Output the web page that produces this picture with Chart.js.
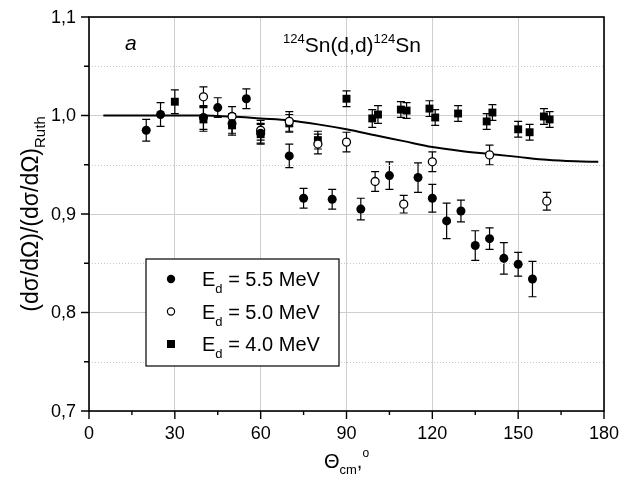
<!DOCTYPE html>
<html>
<head>
<meta charset="utf-8">
<script src="https://cdn.jsdelivr.net/npm/chart.js@4.4.1/dist/chart.umd.min.js"></script>
<style>
  body { margin: 0; background: #fff; }
</style>
</head>
<body>
<canvas id="chart" width="620" height="492"></canvas>
<script>
// angles (deg, cm) and ratio values
var theta55 = [20, 25, 40, 45, 50, 55, 60, 70, 75, 85, 95, 105, 115, 120, 125, 130, 135, 140, 145, 150, 155];
var ratio55 = [0.985, 1.001, 0.998, 1.008, 0.992, 1.017, 0.982, 0.959, 0.916, 0.915, 0.905, 0.939, 0.937, 0.916, 0.893, 0.903, 0.868, 0.875, 0.855, 0.849, 0.834];
var err55   = [0.011, 0.012, 0.012, 0.010, 0.010, 0.010, 0.010, 0.012, 0.010, 0.010, 0.011, 0.014, 0.015, 0.014, 0.018, 0.011, 0.015, 0.011, 0.016, 0.012, 0.018];

var theta50 = [40, 50, 60, 70, 80, 90, 100, 110, 120, 140, 160];
var ratio50 = [1.019, 0.999, 0.985, 0.994, 0.971, 0.973, 0.933, 0.910, 0.953, 0.960, 0.913];
var err50   = [0.010, 0.010, 0.010, 0.010, 0.010, 0.010, 0.010, 0.009, 0.010, 0.010, 0.009];

var theta40 = [30, 40, 50, 60, 70, 80, 90, 99, 101, 109, 111, 119, 121, 129, 139, 141, 150, 154, 159, 161];
var ratio40 = [1.014, 0.996, 0.990, 0.981, 0.992, 0.975, 1.017, 0.997, 1.001, 1.006, 1.005, 1.007, 0.998, 1.002, 0.994, 1.003, 0.986, 0.983, 0.999, 0.996];
var err40   = [0.012, 0.012, 0.010, 0.010, 0.009, 0.009, 0.008, 0.009, 0.009, 0.008, 0.008, 0.008, 0.008, 0.008, 0.008, 0.008, 0.008, 0.008, 0.008, 0.008];

var thetaFit = [5, 20, 30, 40, 45, 50, 60, 70, 80, 90, 100, 110, 120, 130, 140, 150, 160, 170, 178];
var ratioFit = [1.000, 1.000, 1.000, 1.000, 0.9995, 0.999, 0.997, 0.995, 0.991, 0.986, 0.980, 0.974, 0.968, 0.964, 0.961, 0.958, 0.955, 0.9535, 0.953];

var xTickLabels = ["0", "30", "60", "90", "120", "150", "180"];
var yTickLabels = ["0,7", "0,8", "0,9", "1,0", "1,1"];
var legendLabels = ["5.5 MeV", "5.0 MeV", "4.0 MeV"];

var FONT = "'Liberation Sans', Arial, sans-serif";

function pts(xs, ys) {
    return xs.map(function(x, i) { return { x: x, y: ys[i] }; });
}

// draws a run of text pieces (normal / sub / sup) starting at x, baseline y
function drawRich(ctx, parts, x, y) {
    parts.forEach(function(p) {
        ctx.font = (p.italic ? "italic " : "") + p.size + "px " + FONT;
        ctx.fillText(p.text, x, y + (p.dy || 0));
        x += ctx.measureText(p.text).width;
    });
    return x;
}
function richWidth(ctx, parts) {
    var w = 0;
    parts.forEach(function(p) {
        ctx.font = (p.italic ? "italic " : "") + p.size + "px " + FONT;
        w += ctx.measureText(p.text).width;
    });
    return w;
}
function isMajorX(v) { return Math.round(v) % 30 === 0; }
function isMajorY(v) { return Math.round(v * 100) % 10 === 0; }

var errorBars = {
    id: "errorBars",
    beforeDatasetsDraw: function(chart) {
        var ctx = chart.ctx;
        var xs = chart.scales.x, ys = chart.scales.y;
        ctx.save();
        ctx.strokeStyle = "#000";
        ctx.lineWidth = 1.2;
        chart.data.datasets.forEach(function(ds) {
            if (!ds.errors) return;
            ds.data.forEach(function(p, i) {
                var px = xs.getPixelForValue(p.x);
                var y1 = ys.getPixelForValue(p.y + ds.errors[i]);
                var y2 = ys.getPixelForValue(p.y - ds.errors[i]);
                ctx.beginPath();
                ctx.moveTo(px, y1); ctx.lineTo(px, y2);
                ctx.moveTo(px - 4, y1); ctx.lineTo(px + 4, y1);
                ctx.moveTo(px - 4, y2); ctx.lineTo(px + 4, y2);
                ctx.stroke();
            });
        });
        ctx.restore();
    }
};

var frameAndText = {
    id: "frameAndText",
    beforeDatasetsDraw: function(chart) {
        // dotted minor grid lines
        var ctx = chart.ctx, a = chart.chartArea, ys = chart.scales.y;
        ctx.save();
        ctx.strokeStyle = "#c8c8c8";
        ctx.lineWidth = 1;
        ctx.setLineDash([1, 2]);
        ys.ticks.forEach(function(t) {
            if (!isMajorY(t.value)) {
                var py = Math.round(ys.getPixelForValue(t.value)) + 0.5;
                ctx.beginPath();
                ctx.moveTo(a.left, py); ctx.lineTo(a.right, py);
                ctx.stroke();
            }
        });
        ctx.restore();
    },
    afterDraw: function(chart) {
        var ctx = chart.ctx, a = chart.chartArea;
        var xs = chart.scales.x, ys = chart.scales.y;
        ctx.save();
        ctx.strokeStyle = "#000";
        ctx.lineWidth = 1.6;
        ctx.strokeRect(a.left, a.top, a.right - a.left, a.bottom - a.top);

        // tick marks
        ctx.lineWidth = 1.4;
        ctx.beginPath();
        xs.ticks.forEach(function(t) {
            var px = xs.getPixelForValue(t.value);
            var len = isMajorX(t.value) ? 8 : 4;
            ctx.moveTo(px, a.bottom); ctx.lineTo(px, a.bottom + len);
        });
        ys.ticks.forEach(function(t) {
            var py = ys.getPixelForValue(t.value);
            var len = isMajorY(t.value) ? 8 : 5;
            ctx.moveTo(a.left, py); ctx.lineTo(a.left - len, py);
        });
        ctx.stroke();

        ctx.fillStyle = "#000";
        ctx.font = "18px " + FONT;

        // tick labels
        ctx.textAlign = "center";
        ctx.textBaseline = "middle";
        xs.ticks.filter(function(t) { return isMajorX(t.value); }).forEach(function(t, i) {
            ctx.fillText(xTickLabels[i], xs.getPixelForValue(t.value), a.bottom + 23);
        });
        ctx.textAlign = "right";
        ys.ticks.filter(function(t) { return isMajorY(t.value); }).forEach(function(t, i) {
            ctx.fillText(yTickLabels[i], a.left - 13, ys.getPixelForValue(t.value) + 1);
        });

        ctx.textBaseline = "alphabetic";
        ctx.textAlign = "left";

        // panel letter and reaction label
        drawRich(ctx, [{ text: "a", size: 21, italic: true }], a.left + 36, a.top + 33);
        drawRich(ctx, [
            { text: "124", size: 13, dy: -9 },
            { text: "Sn(d,d)", size: 21 },
            { text: "124", size: 13, dy: -9 },
            { text: "Sn", size: 21 }
        ], a.left + 194, a.top + 35);

        // x axis title
        var xt = [
            { text: "\u0398", size: 20 },
            { text: "cm", size: 13, dy: 6 },
            { text: ",", size: 20 },
            { text: "o", size: 12, dy: -11 }
        ];
        var cx = (a.left + a.right) / 2;
        drawRich(ctx, xt, cx - richWidth(ctx, xt) / 2, a.bottom + 57);

        // y axis title (rotated)
        var yt = [
            { text: "(d\u03c3/d\u03a9)/(d\u03c3/d\u03a9)", size: 23 },
            { text: "Ruth", size: 15, dy: 7 }
        ];
        ctx.save();
        ctx.translate(38, (a.top + a.bottom) / 2);
        ctx.rotate(-Math.PI / 2);
        drawRich(ctx, yt, -richWidth(ctx, yt) / 2, 0);
        ctx.restore();

        // legend box
        var lx = a.left + 57, ly = a.top + 242, lw = 193, lh = 107;
        ctx.fillStyle = "#fff";
        ctx.fillRect(lx, ly, lw, lh);
        ctx.lineWidth = 1.2;
        ctx.strokeStyle = "#000";
        ctx.strokeRect(lx, ly, lw, lh);
        ctx.fillStyle = "#000";
        var mx = lx + 25;
        legendLabels.forEach(function(lab, i) {
            var ry = ly + 20 + i * 32.5;
            ctx.beginPath();
            if (i === 0) {
                ctx.arc(mx, ry, 4.2, 0, Math.PI * 2);
                ctx.fill();
            } else if (i === 1) {
                ctx.lineWidth = 1.2;
                ctx.arc(mx, ry, 3.6, 0, Math.PI * 2);
                ctx.stroke();
            } else {
                ctx.fillRect(mx - 4, ry - 4, 8, 8);
            }
            drawRich(ctx, [
                { text: "E", size: 20 },
                { text: "d", size: 13, dy: 7 },
                { text: " = " + lab, size: 20 }
            ], lx + 56, ry + 7);
        });
        ctx.restore();
    }
};

var config = {
    type: "scatter",
    data: {
        datasets: [{
            label: "fit",
            data: pts(thetaFit, ratioFit),
            showLine: true,
            borderColor: "#000",
            borderWidth: 2,
            pointRadius: 0,
            cubicInterpolationMode: "monotone",
            order: 4
        }, {
            label: "Ed = 4.0 MeV",
            data: pts(theta40, ratio40),
            errors: err40,
            pointStyle: "rect",
            pointRadius: 5.6,
            backgroundColor: "#000",
            borderColor: "#000",
            borderWidth: 0,
            order: 3
        }, {
            label: "Ed = 5.0 MeV",
            data: pts(theta50, ratio50),
            errors: err50,
            pointStyle: "circle",
            pointRadius: 4,
            backgroundColor: "#fff",
            borderColor: "#000",
            borderWidth: 1.3,
            order: 2
        }, {
            label: "Ed = 5.5 MeV",
            data: pts(theta55, ratio55),
            errors: err55,
            pointStyle: "circle",
            pointRadius: 4.5,
            backgroundColor: "#000",
            borderColor: "#000",
            borderWidth: 0,
            order: 1
        }]
    },
    options: {
        responsive: false,
        animation: false,
        layout: { padding: { top: 17, right: 16, left: 0, bottom: 0 } },
        plugins: {
            legend: { display: false },
            tooltip: { enabled: false }
        },
        scales: {
            x: {
                type: "linear",
                min: 0,
                max: 180,
                afterFit: function(s) { s.height = 81; },
                border: { display: false },
                grid: {
                    drawTicks: false,
                    color: function(c) {
                        return (c.tick && isMajorX(c.tick.value)) ? "#cfcfcf" : "rgba(0,0,0,0)";
                    }
                },
                ticks: { stepSize: 15, display: false }
            },
            y: {
                min: 0.7,
                max: 1.1,
                afterFit: function(s) { s.width = 89; },
                border: { display: false },
                grid: {
                    drawTicks: false,
                    color: function(c) {
                        return (c.tick && isMajorY(c.tick.value)) ? "#cfcfcf" : "rgba(0,0,0,0)";
                    }
                },
                ticks: { stepSize: 0.05, display: false }
            }
        }
    },
    plugins: [errorBars, frameAndText]
};

var myChart = new Chart(document.getElementById("chart"), config);
</script>
</body>
</html>
